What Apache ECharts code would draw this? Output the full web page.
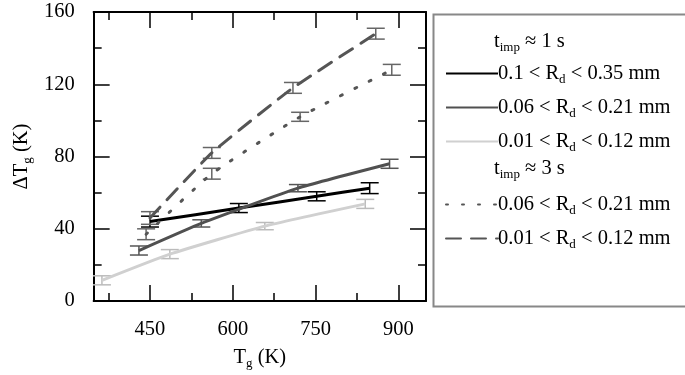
<!DOCTYPE html>
<html>
<head>
<meta charset="utf-8">
<script src="https://cdn.jsdelivr.net/npm/echarts@6/dist/echarts.min.js"></script>
<style>
  html, body { margin: 0; padding: 0; background: #fff; }
  #chart { width: 685px; height: 375px; }
</style>
</head>
<body>
<div id="chart"></div>
<script>
// tick labels
const xTicks = [450, 600, 750, 900];
const xMinorTicks = [375, 525, 675, 825];

// t_imp ~ 1 s
const blackX = [450, 611, 752, 848];
const blackY = [44, 51.5, 58, 62.5];
const blackErr = [3, 2.5, 2.5, 3];

const darkX = [430, 543, 718, 884];
const darkY = [28, 43, 62.5, 76];
const darkErr = [2.5, 2, 2, 2.5];

const lightX = [363, 486, 658, 840];
const lightY = [11.5, 26, 41.5, 53.8];
const lightErr = [2.5, 2.5, 2, 2.5];

// t_imp ~ 3 s
const dotX = [443, 562, 722, 888];
const dotY = [37, 70.5, 102, 128];
const dotErr = [3, 3, 2.5, 3];

const dashX = [450, 562, 709, 859];
const dashY = [46, 82, 118, 148];
const dashErr = [3.5, 3, 3, 3];

const FONT = 'Liberation Serif';
const rich = {
    n: {fontFamily: FONT, fontSize: 20.5, color: '#000', lineHeight: 24},
    s: {fontFamily: FONT, fontSize: 13, color: '#000', lineHeight: 12, padding: [12, 0, 0, 0]}
};

const legendNames = {
    b1: '{n|0.1 < R}{s|d}{n| < 0.35 mm}',
    d1: '{n|0.06 < R}{s|d}{n| < 0.21 mm}',
    l1: '{n|0.01 < R}{s|d}{n| < 0.12 mm}',
    d3: '{n|0.06 < R}{s|d}{n| < 0.21 mm}',
    l3: '{n|0.01 < R}{s|d}{n| < 0.12 mm}'
};

const pairs = (xs, ys) => xs.map((x, i) => [x, ys[i]]);
const bars = (xs, ys, es) => xs.map((x, i) => [x, ys[i] - es[i], ys[i] + es[i]]);

function errRender(color) {
    return function (params, api) {
        const x = api.value(0);
        const top = api.coord([x, api.value(2)]);
        const bot = api.coord([x, api.value(1)]);
        const hw = 9;
        const st = {stroke: color, lineWidth: 1.5};
        return {
            type: 'group',
            children: [
                {type: 'line', shape: {x1: top[0], y1: top[1], x2: bot[0], y2: bot[1]}, style: st},
                {type: 'line', shape: {x1: top[0] - hw, y1: top[1], x2: top[0] + hw, y2: top[1]}, style: st},
                {type: 'line', shape: {x1: bot[0] - hw, y1: bot[1], x2: bot[0] + hw, y2: bot[1]}, style: st}
            ]
        };
    };
}

function lineSeries(name, xs, ys, color, type) {
    return {
        name: name,
        type: 'line',
        data: pairs(xs, ys),
        symbol: 'none',
        smooth: 0.15,
        lineStyle: {color: color, width: 3, type: type, cap: type === 'solid' ? 'butt' : 'round'},
        itemStyle: {color: color},
        z: 3
    };
}

function errSeries(xs, ys, es, color) {
    return {
        type: 'custom',
        renderItem: errRender(color),
        data: bars(xs, ys, es),
        z: 2,
        silent: true
    };
}

const axisLineStyle = {color: '#000', width: 2};
const tickStyle = {color: '#000', width: 1.5};

const option = {
    animation: false,
    grid: {left: 72.5, right: 259, top: 12, bottom: 72},
    xAxis: [
        {
            type: 'value', min: 348, max: 950, position: 'bottom',
            axisLine: {lineStyle: axisLineStyle},
            axisTick: {inside: true, length: 16, customValues: xTicks, lineStyle: tickStyle},
            axisLabel: {customValues: xTicks, fontFamily: FONT, fontSize: 20.5, color: '#000', margin: 18},
            splitLine: {show: false},
            name: '{n|T}{s|g}{n| (K)}',
            nameLocation: 'middle',
            nameGap: 28,
            nameTextStyle: {rich: rich}
        },
        {
            type: 'value', min: 348, max: 950, position: 'bottom',
            axisLine: {show: false},
            axisTick: {inside: true, length: 8, customValues: xMinorTicks, lineStyle: tickStyle},
            axisLabel: {show: false},
            splitLine: {show: false}
        },
        {
            type: 'value', min: 348, max: 950, position: 'top',
            axisLine: {lineStyle: axisLineStyle},
            axisTick: {inside: true, length: 16, customValues: xTicks, lineStyle: tickStyle},
            axisLabel: {show: false},
            splitLine: {show: false}
        },
        {
            type: 'value', min: 348, max: 950, position: 'top',
            axisLine: {show: false},
            axisTick: {inside: true, length: 8, customValues: xMinorTicks, lineStyle: tickStyle},
            axisLabel: {show: false},
            splitLine: {show: false}
        }
    ],
    yAxis: [
        {
            type: 'value', min: 0, max: 160, interval: 40, position: 'left',
            axisLine: {show: true, lineStyle: axisLineStyle},
            axisTick: {inside: true, length: 16, lineStyle: tickStyle},
            minorTick: {show: true, splitNumber: 2, length: 8, lineStyle: tickStyle},
            axisLabel: {fontFamily: FONT, fontSize: 20.5, color: '#000', margin: 19},
            splitLine: {show: false},
            name: '{n|ΔT}{s|g}{n| (K)}',
            nameLocation: 'middle',
            nameGap: 60,
            nameRotate: 90,
            nameTextStyle: {rich: rich}
        },
        {
            type: 'value', min: 0, max: 160, interval: 40, position: 'right',
            axisLine: {show: true, lineStyle: axisLineStyle},
            axisTick: {inside: true, length: 16, lineStyle: tickStyle},
            minorTick: {show: true, splitNumber: 2, length: 8, lineStyle: tickStyle},
            axisLabel: {show: false},
            splitLine: {show: false}
        }
    ],
    legend: [
        {
            data: ['b1', 'd1', 'l1'],
            orient: 'vertical', left: 440, top: 56,
            itemWidth: 52, itemHeight: 14, itemGap: 9,
            itemStyle: {opacity: 0},
            formatter: name => legendNames[name],
            textStyle: {rich: rich, padding: [0, 0, 0, -5]}
        },
        {
            data: ['d3', 'l3'],
            orient: 'vertical', left: 440, top: 187,
            itemWidth: 52, itemHeight: 14, itemGap: 9,
            itemStyle: {opacity: 0},
            formatter: name => legendNames[name],
            textStyle: {rich: rich, padding: [0, 0, 0, -5]}
        }
    ],
    graphic: [
        {
            type: 'rect', left: 431, top: 12,
            shape: {width: 253, height: 292},
            style: {fill: 'none', stroke: '#888', lineWidth: 2}
        },
        {
            type: 'text', left: 494, top: 29,
            style: {text: '{n|t}{s|imp}{n| ≈ 1 s}', rich: rich}
        },
        {
            type: 'text', left: 494, top: 156,
            style: {text: '{n|t}{s|imp}{n| ≈ 3 s}', rich: rich}
        }
    ],
    series: [
        lineSeries('b1', blackX, blackY, '#000', 'solid'),
        lineSeries('d1', darkX, darkY, '#505050', 'solid'),
        lineSeries('l1', lightX, lightY, '#d0d0d0', 'solid'),
        lineSeries('d3', dotX, dotY, '#555', [2, 14]),
        lineSeries('l3', dashX, dashY, '#555', [15, 10]),
        errSeries(blackX, blackY, blackErr, '#000'),
        errSeries(darkX, darkY, darkErr, '#555'),
        errSeries(lightX, lightY, lightErr, '#bbb'),
        errSeries(dotX, dotY, dotErr, '#666'),
        errSeries(dashX, dashY, dashErr, '#666')
    ]
};

const chart = echarts.init(document.getElementById('chart'));
chart.setOption(option);
</script>
</body>
</html>
